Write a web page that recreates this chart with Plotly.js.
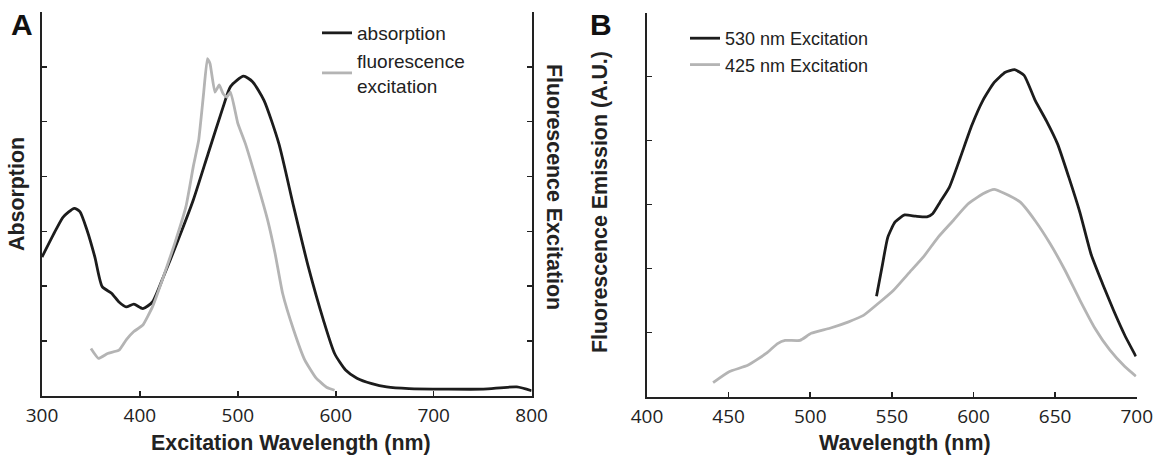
<!DOCTYPE html>
<html><head><meta charset="utf-8">
<script src="https://cdn.plot.ly/plotly-3.0.1.min.js"></script>
<style>html,body{margin:0;padding:0;background:#fff}#chart{width:1162px;height:455px}</style>
</head><body><div id="chart"></div>
<script>
// Panel A: absorption (black) and fluorescence excitation (gray), arbitrary units
const absWl = [300,314,321.6,333,338.7,346,354,361.5,371,378.6,386,393.8,403,412.8,424,439,454.5,469.7,485,492.5,505.8,515,526.7,541.9,557,572,587.4,598.8,610,621.6,636.8,652,674.8,712.7,750.7,784.9,800];
const absVal = [2.53,3.02,3.26,3.42,3.36,3.02,2.53,1.99,1.87,1.71,1.62,1.67,1.59,1.71,2.17,2.84,3.57,4.42,5.27,5.64,5.83,5.73,5.39,4.60,3.45,2.35,1.38,0.77,0.47,0.32,0.22,0.16,0.13,0.12,0.12,0.16,0.09];
const excWl = [350,357.7,367,378.6,386,393.8,403,412.8,424,435.6,447,454.5,460,465,468.9,471.6,476.6,481,485,488.7,492.5,500,507.7,519,530.5,538,545.7,557,568.4,580,591,598.8];
const excVal = [0.86,0.68,0.77,0.83,1.02,1.17,1.29,1.62,2.17,2.78,3.45,4.18,4.66,5.51,6.15,6.06,5.54,5.67,5.51,5.45,5.54,4.97,4.60,3.93,3.20,2.60,1.87,1.20,0.65,0.32,0.15,0.10];
// Panel B: emission spectra
const em530Wl = [540.6,544,547.5,552,557.8,564.6,571.5,575,579.5,585.2,592,599,605.8,612.7,619.5,625.2,631,637.8,644.7,651.5,658.4,665.2,672,679,685.8,692.7,699.5];
const em530Val = [1.57,2.03,2.49,2.73,2.84,2.82,2.81,2.86,3.04,3.27,3.74,4.24,4.63,4.91,5.07,5.11,5.02,4.63,4.31,3.95,3.43,2.88,2.23,1.77,1.35,0.96,0.63];
const em425Wl = [440.5,450.3,461.7,473.2,480,484.6,493.7,500.6,512,523.5,532.6,541.8,550.9,560,569.2,578.3,587.5,596.6,605.8,612.7,619.5,628.7,637.8,647,656,665.2,674.4,683.5,692.7,699.5];
const em425Val = [0.22,0.39,0.49,0.68,0.83,0.88,0.88,0.99,1.07,1.17,1.27,1.46,1.66,1.92,2.18,2.49,2.75,3.01,3.17,3.24,3.17,3.04,2.75,2.39,1.98,1.51,1.07,0.73,0.47,0.32];
const xTicksA = [300,400,500,600,700,800];
const xTicksB = [400,450,500,550,600,650,700];
const yTicksA = [1,2,3,4,5,6];
const yTicksB = [1,2,3,4,5];

const BLACK = '#1c1c1c', GRAY = '#b4b4b4';
const W = 1162, H = 455;
const tickFont = {family:'Open Sans, sans-serif', size:19, color:'#222'};
const titleFont = {family:'Liberation Sans, Arial, sans-serif', size:21.4, color:'#222'};
const legFont = {family:'Liberation Sans, Arial, sans-serif', color:'#222'};

const traces = [
  {x:absWl, y:absVal, xaxis:'x', yaxis:'y', mode:'lines', name:'absorption', legend:'legend',
   line:{color:BLACK, width:2.8, shape:'spline', smoothing:0.6}},
  {x:excWl, y:excVal, xaxis:'x', yaxis:'y2', mode:'lines', name:'fluorescence<br>excitation', legend:'legend',
   line:{color:GRAY, width:2.8, shape:'spline', smoothing:0.4}},
  {x:em530Wl, y:em530Val, xaxis:'x2', yaxis:'y3', mode:'lines', name:'530 nm Excitation', legend:'legend2',
   line:{color:BLACK, width:2.8, shape:'spline', smoothing:0.5}},
  {x:em425Wl, y:em425Val, xaxis:'x2', yaxis:'y3', mode:'lines', name:'425 nm Excitation', legend:'legend2',
   line:{color:GRAY, width:2.8, shape:'spline', smoothing:0.5}}
];

const axBase = {showgrid:false, zeroline:false, showline:true, linecolor:'#222', linewidth:2,
  ticks:'inside', ticklen:5, tickwidth:1.5, tickcolor:'#222', tickfont:tickFont, fixedrange:true};

const dA = [42/W, 531.6/W], dB = [647/W, 1136.7/W];
const yA = [1-395.7/H, 1-12.1/H], yB = [1-396.7/H, 1-12.7/H];

const layout = {
  width:W, height:H, margin:{l:0,r:0,t:0,b:0}, paper_bgcolor:'#fff', plot_bgcolor:'rgba(0,0,0,0)',
  showlegend:true,
  xaxis:Object.assign({}, axBase, {domain:dA, range:[300,800], tickvals:xTicksA, anchor:'y', ticklabelstandoff:1}),
  yaxis:Object.assign({}, axBase, {domain:yA, range:[0,7], tickvals:yTicksA, showticklabels:false, anchor:'x'}),
  yaxis2:Object.assign({}, axBase, {overlaying:'y', side:'right', range:[0,7], tickvals:yTicksA, showticklabels:false, anchor:'x'}),
  xaxis2:Object.assign({}, axBase, {domain:dB, range:[400,700], tickvals:xTicksB, anchor:'y3', ticklabelstandoff:1}),
  yaxis3:Object.assign({}, axBase, {domain:yB, range:[0,6], tickvals:yTicksB, showticklabels:false, anchor:'x2'}),
  legend:{x:317/W, y:1-14/H, xanchor:'left', yanchor:'top', bgcolor:'rgba(0,0,0,0)',
    font:Object.assign({size:19}, legFont), tracegroupgap:0, itemwidth:30},
  legend2:{x:685/W, y:1-20/H, xanchor:'left', yanchor:'top', bgcolor:'rgba(0,0,0,0)',
    font:Object.assign({size:18}, legFont), tracegroupgap:0, itemwidth:30},
  annotations:[
    {text:'<b>A</b>', x:22/W, y:1-24/H, xref:'paper', yref:'paper', showarrow:false, xanchor:'center', yanchor:'middle',
     font:{family:'Liberation Sans, Arial, sans-serif', size:30, color:'#111'}},
    {text:'<b>B</b>', x:601/W, y:1-24/H, xref:'paper', yref:'paper', showarrow:false, xanchor:'center', yanchor:'middle',
     font:{family:'Liberation Sans, Arial, sans-serif', size:30, color:'#111'}},
    {text:'<b>Excitation Wavelength (nm)</b>', x:291/W, y:1-443/H, xref:'paper', yref:'paper', showarrow:false,
     xanchor:'center', yanchor:'middle', font:titleFont},
    {text:'<b>Absorption</b>', x:17/W, y:1-194/H, xref:'paper', yref:'paper', showarrow:false, textangle:-90,
     xanchor:'center', yanchor:'middle', font:titleFont},
    {text:'<b>Fluorescence Excitation</b>', x:554/W, y:1-187/H, xref:'paper', yref:'paper', showarrow:false, textangle:90,
     xanchor:'center', yanchor:'middle', font:titleFont},
    {text:'<b>Wavelength (nm)</b>', x:905/W, y:1-443/H, xref:'paper', yref:'paper', showarrow:false,
     xanchor:'center', yanchor:'middle', font:titleFont},
    {text:'<b>Fluorescence Emission (A.U.)</b>', x:600/W, y:1-202/H, xref:'paper', yref:'paper', showarrow:false, textangle:-90,
     xanchor:'center', yanchor:'middle', font:titleFont}
  ]
};
Plotly.newPlot('chart', traces, layout, {displayModeBar:false, staticPlot:true});
</script></body></html>
